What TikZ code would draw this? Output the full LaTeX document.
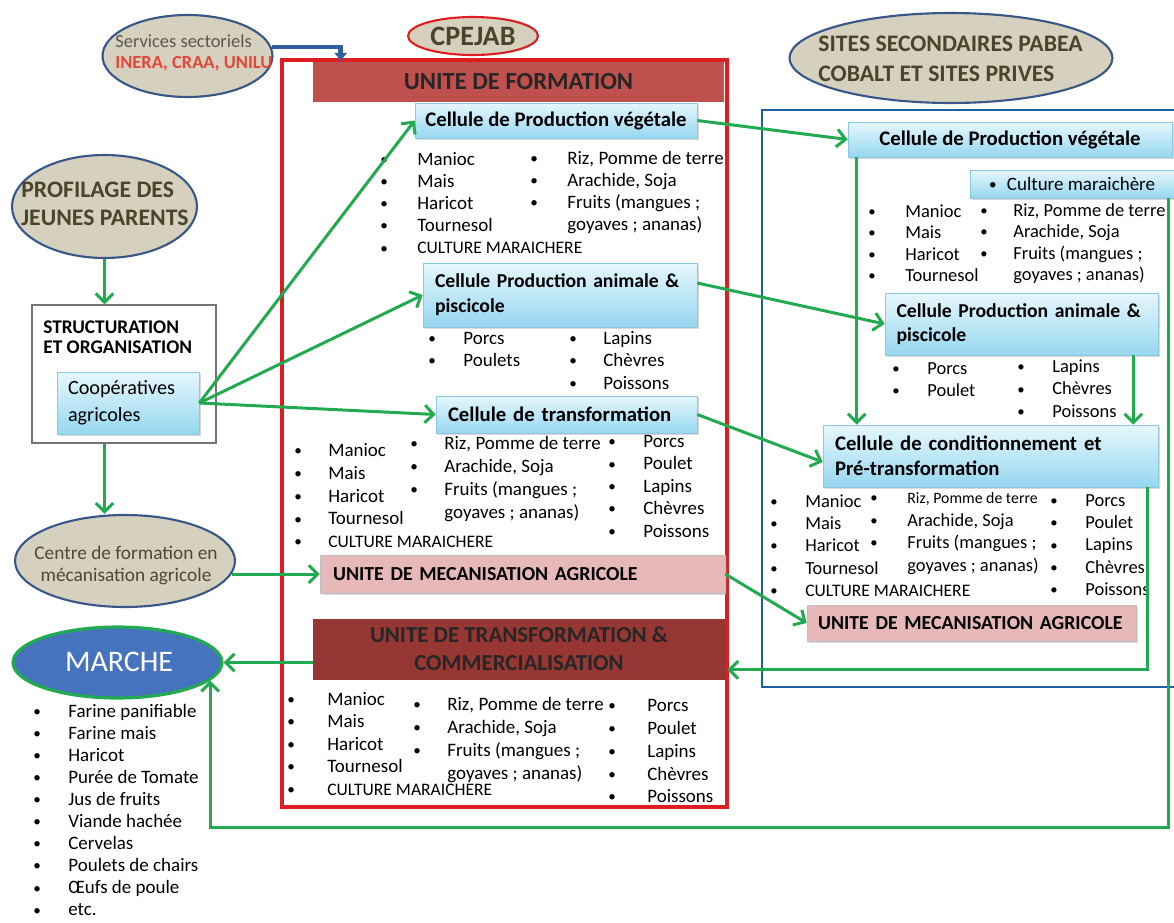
\documentclass[tikz,border=0pt]{standalone}
\usepackage{fontspec}
\setmainfont{Carlito}
\usepackage{tikz}
\usetikzlibrary{shapes.geometric,shadows,arrows.meta}
\usetikzlibrary{calc}

\definecolor{tanfill}{RGB}{214,208,191}
\definecolor{ellblue}{RGB}{56,86,135}
\definecolor{arrgreen}{RGB}{34,170,80}
\definecolor{arrblue}{RGB}{50,95,160}
\definecolor{frred}{RGB}{220,30,35}
\definecolor{frblue}{RGB}{30,95,165}
\definecolor{unitred}{RGB}{192,80,77}
\definecolor{unitdark}{RGB}{150,55,52}
\definecolor{mecpink}{RGB}{230,185,184}
\definecolor{celltop}{RGB}{230,247,252}
\definecolor{cellbot}{RGB}{150,215,240}
\definecolor{cellline}{RGB}{140,200,225}
\definecolor{olivetxt}{RGB}{74,69,42}
\definecolor{svcgray}{RGB}{95,85,75}
\definecolor{svcred}{RGB}{228,70,60}
\definecolor{centretxt}{RGB}{85,70,50}
\definecolor{marblue}{RGB}{70,115,190}

\newcommand\fsz[2]{\fontsize{#1}{#2}\selectfont}
\newcommand\bgap{0.7cm}
\newcommand\blt{\makebox[\bgap][l]{\raisebox{0.1ex}{\scalebox{0.8}{\textbullet}}}}
\newcommand\nblt{\hspace*{\bgap}}

\begin{document}
\begin{tikzpicture}[x=0.02cm, y=-0.02cm,
        tanell/.style={ellipse, draw=ellblue, line width=1.2pt, fill=tanfill, inner sep=0pt},
        cell/.style={rectangle, draw=cellline, top color=celltop, bottom color=cellbot, drop shadow={opacity=0.3, shadow xshift=1.2pt, shadow yshift=-1.2pt}, inner sep=0pt, font=\bfseries\fsz{11.8}{14.2}},
        mecbox/.style={rectangle, draw=black!25, fill=mecpink, drop shadow={opacity=0.3, shadow xshift=1.2pt, shadow yshift=-1.2pt}, inner sep=0pt, align=left, font=\bfseries\fsz{11.3}{14}},
        garrow/.style={draw=arrgreen, line width=1.7pt, -{Straight Barb[length=5pt, width=10pt]}},
        lst/.style={anchor=north west, align=left, inner sep=0pt, font=\fsz{10.8}{12.6}, execute at begin node={\gdef\bgap{#1}}},
        lst/.default=0.7cm]

        \useasboundingbox (0,0) rectangle (1174,923);

        \node[draw=frred, line width=1.8pt, minimum width=8.9cm, minimum height=14.94cm, inner sep=0pt] (frameR) at (504.5,433.5) {};

        \node[draw=frblue, line width=1.4pt, minimum width=8.6cm, minimum height=11.54cm, inner sep=0pt] (frameB) at (977,398.5) {};

        \node[tanell, minimum width=3.4cm, minimum height=1.64cm] (svc) at (187.5,56) {};

        \node[anchor=north west, align=left, inner sep=0pt, font=\fsz{10.5}{11.9}, text=svcgray] (svcT) at (115,34) {Services sectoriels\\\textcolor{svcred}{\bfseries INERA, CRAA, UNILU}};

        \node[tanell, draw=frred, minimum width=2.6cm, minimum height=0.76cm] (cpejab) at (473,36) {};

        \node[font=\bfseries\fsz{16}{18}, text=olivetxt, inner sep=0pt] (cpejabT) at (cpejab) {CPEJAB};

        \node[tanell, minimum width=6.46cm, minimum height=1.8cm] (sites) at (951,58) {};

        \node[anchor=north west, align=left, inner sep=0pt, font=\bfseries\fsz{13.5}{17}, text=olivetxt] (sitesT) at (818,36) {SITES SECONDAIRES PABEA\\COBALT ET SITES PRIVES};

        \node[tanell, minimum width=3.7cm, minimum height=2.06cm] (prof) at (104.5,206.5) {};

        \node[anchor=north west, align=left, inner sep=0pt, font=\bfseries\fsz{13.5}{15.9}, text=olivetxt] (profT) at (21,182) {PROFILAGE DES\\JEUNES PARENTS};

        \node[draw=black!55, line width=0.8pt, fill=white, minimum width=3.68cm, minimum height=2.76cm] (struct) at (124,374) {};

        \node[anchor=north west, align=left, inner sep=0pt, font=\bfseries\fsz{11}{11.9}] (structT) at (43,320) {STRUCTURATION\\ET ORGANISATION};

        \node[cell, font=\fsz{11.5}{15.3}, align=left, text width=2.4cm, minimum width=2.84cm, minimum height=1.24cm] (coop) at (128,403) {Coopératives\\agricoles};

        \node[tanell, minimum width=4.4cm, minimum height=1.84cm] (centre) at (125,561) {};

        \node[align=center, inner sep=0pt, font=\fsz{11}{12.5}, text=centretxt] (centreT) at (126,565) {Centre de formation en\\mécanisation agricole};

        \node[ellipse, draw=arrgreen, line width=1.8pt, fill=marblue, minimum width=4.18cm, minimum height=1.42cm, inner sep=0pt] (marche) at (117.5,662.5) {};

        \node[font=\fsz{17}{20}, text=white, inner sep=0pt] (marcheT) at (119,662) {MARCHE};

        \node[lst, font=\fsz{10.8}{12.55}] (mkt) at (33,704) {\blt Farine panifiable\\\blt Farine mais\\\blt Haricot\\\blt Purée de Tomate\\\blt Jus de fruits\\\blt Viande hachée\\\blt Cervelas\\\blt Poulets de chairs\\\blt Œufs de poule\\\blt etc.};

        \node[fill=unitred, minimum width=8.22cm, minimum height=0.8cm, inner sep=0pt, font=\bfseries\fsz{14}{16}, text=black!85] (unitF) at (518.5,82) {UNITE DE FORMATION};

        \node[cell, minimum width=5.64cm, minimum height=0.7cm] (vegL) at (556,120.5) {Cellule de Production végétale};

        \node[lst=0.74cm] (vgA) at (380,152) {\blt Manioc\\\blt Mais\\\blt Haricot\\\blt Tournesol\\\blt{\fsz{10}{12}CULTURE MARAICHERE}};

        \node[lst=0.74cm] (vgB) at (530,151) {\blt Riz, Pomme de terre\\\blt Arachide, Soja\\\blt Fruits (mangues ;\\\nblt goyaves ; ananas)};

        \node[cell, font=\bfseries\fsz{11.2}{14.2}, align=left, text width=5cm, minimum width=5.48cm, minimum height=1.28cm] (aniL) at (560,295) {Cellule Production animale \&\\piscicole};

        \node[lst=0.7cm, font=\fsz{10.8}{12.5}] (anA) at (428,332) {\blt Porcs\\\blt Poulets};

        \node[lst=0.68cm, font=\fsz{10.8}{12.8}] (anB) at (569,331) {\blt Lapins\\\blt Chèvres\\\blt Poissons};

        \node[cell, align=left, text width=4.74cm, minimum width=5.22cm, minimum height=0.74cm] (trfL) at (566.5,414.5) {Cellule de transformation};

        \node[lst=0.68cm, font=\fsz{10.8}{13}] (tfA) at (294,443) {\blt Manioc\\\blt Mais\\\blt Haricot\\\blt Tournesol\\\blt{\fsz{10}{12}CULTURE MARAICHERE}};

        \node[lst=0.68cm, font=\fsz{10.8}{13}] (tfB) at (410,436) {\blt Riz, Pomme de terre\\\blt Arachide, Soja\\\blt Fruits (mangues ;\\\nblt goyaves ; ananas)};

        \node[lst=0.7cm, font=\fsz{10.8}{12.75}] (tfC) at (608,435) {\blt Porcs\\\blt Poulet\\\blt Lapins\\\blt Chèvres\\\blt Poissons};

        \node[mecbox, text width=7.58cm, minimum width=8.1cm, minimum height=0.76cm] (mecL) at (522.5,574) {UNITE DE MECANISATION AGRICOLE};

        \node[fill=unitdark, minimum width=8.24cm, minimum height=1.22cm, inner sep=0pt, align=center, font=\bfseries\fsz{13}{16}, text=black!85] (unitT) at (519,649) {UNITE DE TRANSFORMATION \&\\COMMERCIALISATION};

        \node[lst=0.8cm, font=\fsz{10.8}{12.75}] (utA) at (287,692) {\blt Manioc\\\blt Mais\\\blt Haricot\\\blt Tournesol\\\blt{\fsz{10}{12}CULTURE MARAICHERE}};

        \node[lst=0.68cm, font=\fsz{10.8}{13}] (utB) at (413,697) {\blt Riz, Pomme de terre\\\blt Arachide, Soja\\\blt Fruits (mangues ;\\\nblt goyaves ; ananas)};

        \node[lst=0.78cm, font=\fsz{10.8}{13}] (utC) at (608,699) {\blt Porcs\\\blt Poulet\\\blt Lapins\\\blt Chèvres\\\blt Poissons};

        \node[cell, minimum width=6.48cm, minimum height=0.7cm] (vegR) at (1010,139.5) {Cellule de Production végétale};

        \node[cell, font=\fsz{10.8}{13}, minimum width=4.08cm, minimum height=0.56cm] (marR) at (1072,184) {\makebox[0.36cm][l]{\raisebox{0.1ex}{\scalebox{0.8}{\textbullet}}}Culture maraichère};

        \node[lst=0.74cm, font=\fsz{10.5}{12.3}] (vrA) at (868,204) {\blt Manioc\\\blt Mais\\\blt Haricot\\\blt Tournesol};

        \node[lst=0.66cm, font=\fsz{10.5}{12.3}] (vrB) at (980,203) {\blt Riz, Pomme de terre\\\blt Arachide, Soja\\\blt Fruits (mangues ;\\\nblt goyaves ; ananas)};

        \node[cell, font=\bfseries\fsz{11.2}{14}, align=left, text width=5cm, minimum width=5.46cm, minimum height=1.24cm] (aniR) at (1021.5,324) {Cellule Production animale \&\\piscicole};

        \node[lst=0.7cm, font=\fsz{10.5}{12.5}] (arA) at (892,362) {\blt Porcs\\\blt Poulet};

        \node[lst=0.7cm, font=\fsz{10.5}{13}] (arB) at (1017,359) {\blt Lapins\\\blt Chèvres\\\blt Poissons};

        \node[cell, align=left, text width=6.22cm, minimum width=6.7cm, minimum height=1.24cm] (condR) at (990.5,456) {Cellule de conditionnement et\\Pré-transformation};

        \node[lst=0.7cm, font=\fsz{10.5}{12.75}] (cdA) at (770,494) {\blt Manioc\\\blt Mais\\\blt Haricot\\\blt Tournesol\\\blt{\fsz{10}{12}CULTURE MARAICHERE}};

        \node[lst=0.74cm, font=\fsz{10.5}{12.9}] (cdB) at (870,492) {\blt{\fsz{9}{11}Riz, Pomme de terre}\\\blt Arachide, Soja\\\blt Fruits (mangues ;\\\nblt goyaves ; ananas)};

        \node[lst=0.7cm, font=\fsz{10.5}{12.75}] (cdC) at (1050,494) {\blt Porcs\\\blt Poulet\\\blt Lapins\\\blt Chèvres\\\blt Poissons};

        \node[mecbox, text width=6.14cm, minimum width=6.58cm, minimum height=0.72cm] (mecR) at (971.5,623) {UNITE DE MECANISATION AGRICOLE};

        \coordinate (mk) at (marche.-11);

        \coordinate (anout) at ($(aniL.east)+(0,-12)$);

        \coordinate (vgdn) at ($(vegR.south west)+(9,0)$);

        \coordinate (andn) at ($(aniR.south east)+(-25,0)$);

        \coordinate (cdout) at ($(condR.south east)+(-11,0)$);

        \coordinate (unitTin) at ($(unitT.south east)+(2,-10)$);

        \coordinate (mrout) at ($(marR.south east)+(-6,0)$);

        \draw[arrblue, line width=2.6pt, -{Latex[length=5pt, width=8pt]}] (svc.6) -| ($(unitF.north west)+(28,0)$);

        \draw[garrow] (prof.south) -- (prof.south |- struct.north);

        \draw[garrow] (struct.south -| prof.south) -- (prof.south |- centre.north);

        \draw[garrow] (coop.east) -- (vegL.west);

        \draw[garrow] (coop.east) -- (aniL.west);

        \draw[garrow] (coop.east) -- (trfL.west);

        \draw[garrow] (centre.-7) -- (centre.-7 -| mecL.west);

        \draw[garrow] (marche.east -| unitT.west) -- (marche.east);

        \draw[garrow] (vegL.east) -- (vegR.west);

        \draw[garrow] (anout) -- (aniR.west);

        \draw[garrow] (trfL.east) -- ($(condR.west)+(0,6)$);

        \draw[garrow] (mecL.east) -- (mecR.west);

        \draw[garrow] (vgdn) -- (vgdn |- condR.north);

        \draw[garrow] (andn) -- (andn |- condR.north);

        \draw[garrow] (cdout) |- (unitTin);

        \draw[garrow] (mrout) -- ++(0,629) -| (mk);

\end{tikzpicture}
\end{document}
